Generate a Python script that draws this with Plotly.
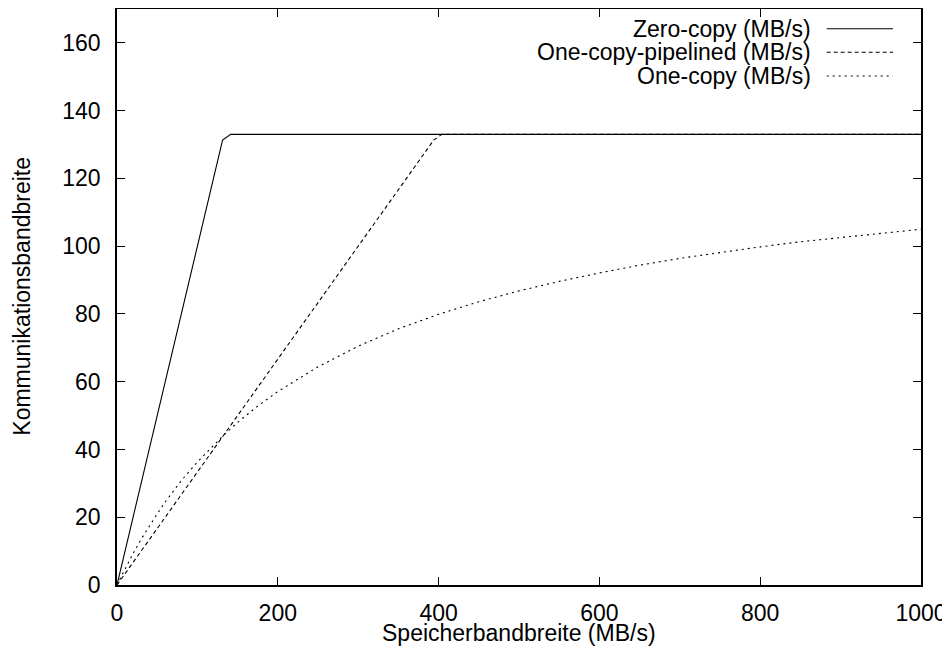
import plotly.graph_objects as go

# Data
zero_x = [0, 131.3, 141.4, 1000]
zero_y = [0, 131.3, 133.0, 133.0]

pipe_x = [0, 393.9, 404.0, 1000]
pipe_y = [0, 131.3, 133.0, 133.0]

one_x = [0, 10, 20, 30, 40, 50, 60, 80, 100, 133, 150, 175, 200, 250, 300, 350,
         400, 450, 500, 550, 600, 650, 700, 750, 800, 850, 900, 950, 1000]
one_y = [0, 4.8, 9.3, 13.5, 17.4, 21.0, 24.5, 30.8, 36.3, 44.3, 48.0, 52.8, 57.1,
         64.4, 70.5, 75.6, 79.9, 83.6, 86.8, 89.6, 92.1, 94.4, 96.4, 98.2, 99.8,
         101.3, 102.6, 103.9, 105.0]

series_names = ["Zero-copy (MB/s)", "One-copy-pipelined (MB/s)", "One-copy (MB/s)"]
dashes = ["solid", "4px,3px", "2px,4px"]

x_ticks = [0, 200, 400, 600, 800, 1000]
y_ticks = [0, 20, 40, 60, 80, 100, 120, 140, 160]

x_title = "Speicherbandbreite (MB/s)"
y_title = "Kommunikationsbandbreite"

FONT = "Liberation Sans, Arial, Helvetica, sans-serif"
FS = 23
# The page body adds an 8px offset, so the figure covers page pixels 8..950 / 8..648
OFF = 8
W, H = 950 - OFF, 648 - OFF
ML, MR, MT, MB = 117 - OFF, 29, 1, 63
PW, PH = W - ML - MR, H - MT - MB


def px_x(page_x):
    return (page_x - OFF - ML) / PW


def px_y(page_y):
    return (H - MB - (page_y - OFF)) / PH


fig = go.Figure()
for xs, ys, name, d in zip([zero_x, pipe_x, one_x], [zero_y, pipe_y, one_y], series_names, dashes):
    fig.add_trace(go.Scatter(x=xs, y=ys, mode="lines", name=name, showlegend=False,
                             line=dict(color="black", width=1.1, dash=d)))

# gnuplot-style key: right-aligned text, sample line on the right
legend_rows_px = [28.8, 52.2, 76.0]
for name, d, yp in zip(series_names, dashes, legend_rows_px):
    fig.add_annotation(x=px_x(811.7), y=px_y(yp), xref="paper", yref="paper", text=name,
                       showarrow=False, xanchor="right", yanchor="middle", borderpad=0,
                       font=dict(family=FONT, size=FS, color="black"))
    fig.add_shape(type="line", xref="paper", yref="paper", x0=px_x(826.7), x1=px_x(893),
                  y0=px_y(yp), y1=px_y(yp), line=dict(color="black", width=1.1, dash=d))

# axis titles
fig.add_annotation(x=px_x(519), y=px_y(633), xref="paper", yref="paper",
                   text=x_title, showarrow=False, xanchor="center", yanchor="middle",
                   borderpad=0, font=dict(family=FONT, size=FS, color="black"))
fig.add_annotation(x=px_x(21.7), y=px_y(296), xref="paper", yref="paper",
                   text=y_title, showarrow=False, xanchor="center", yanchor="middle",
                   textangle=-90, font=dict(family=FONT, size=FS, color="black"))

axis_common = dict(showgrid=False, zeroline=False, showline=True, linecolor="black",
                   linewidth=1.5, mirror="ticks", ticks="inside", ticklen=8,
                   tickwidth=1, tickcolor="black", automargin=False,
                   tickfont=dict(family=FONT, size=FS, color="black"))

fig.update_xaxes(range=[0, 1000], tickvals=x_ticks, ticklabelstandoff=7, **axis_common)
fig.update_yaxes(range=[0, 170], tickvals=y_ticks, ticklabelstandoff=10, **axis_common)

fig.update_layout(width=W, height=H, plot_bgcolor="white", paper_bgcolor="white",
                  margin=dict(l=ML, r=MR, t=MT, b=MB), showlegend=False)

fig.write_html("out.html")
